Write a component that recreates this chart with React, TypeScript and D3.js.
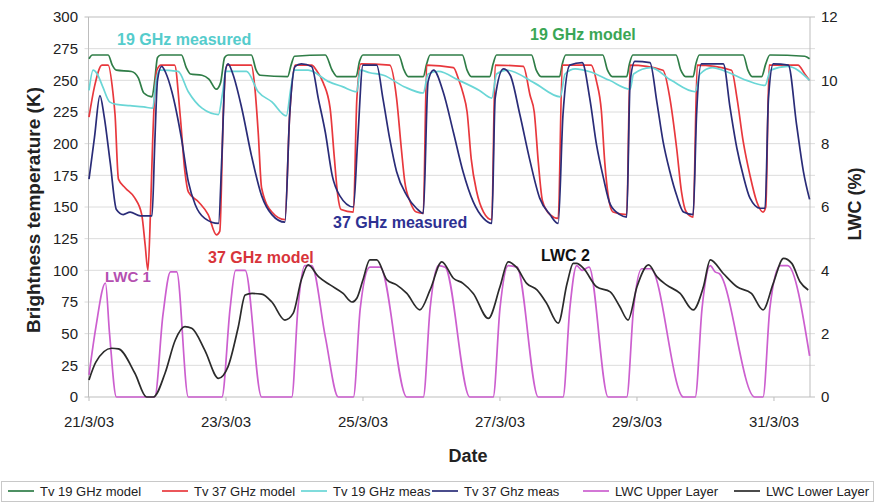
import React from 'react';
import * as d3 from 'd3';

type P = [number, number];

// time in days since 21/3/03 00:00
const dateTicks = [0, 2, 4, 6, 8, 10];
const dateLabels = ['21/3/03', '23/3/03', '25/3/03', '27/3/03', '29/3/03', '31/3/03'];
const leftTicks = [0, 25, 50, 75, 100, 125, 150, 175, 200, 225, 250, 275, 300];
const rightTicks = [0, 2, 4, 6, 8, 10, 12];

// Tv 19 GHz model (K)
const tv19Model: P[] = [
  [0, 267], [0.05, 270], [0.28, 270], [0.34, 262], [0.40, 258], [0.62, 257], [0.72, 252], [0.80, 240], [0.92, 237], [0.96, 250],
  [1.0, 268], [1.05, 270], [1.35, 270], [1.42, 260], [1.48, 255], [1.65, 254], [1.75, 251], [1.86, 243], [1.92, 248], [1.98, 268],
  [2.03, 270], [2.37, 270], [2.44, 258], [2.50, 254], [2.90, 253], [2.95, 262], [3.0, 269], [3.45, 270], [3.55, 258], [3.62, 253],
  [3.90, 253], [3.95, 265], [4.0, 270], [4.52, 270], [4.60, 258], [4.66, 253], [4.88, 253], [4.93, 263], [4.98, 270], [5.45, 270],
  [5.52, 258], [5.58, 253], [5.85, 253], [5.90, 263], [5.95, 270], [6.46, 270], [6.53, 258], [6.60, 253], [6.87, 253], [6.91, 263],
  [6.96, 270], [7.50, 270], [7.57, 258], [7.64, 253], [7.85, 253], [7.89, 263], [7.94, 270], [8.57, 270], [8.64, 258], [8.71, 253],
  [8.82, 253], [8.86, 263], [8.91, 270], [9.55, 270], [9.62, 258], [9.68, 253], [9.82, 253], [9.88, 263], [9.94, 270], [10.45, 269],
  [10.52, 267],
];

// Tv 37 GHz model (K)
const tv37Model: P[] = [
  [0, 221], [0.08, 245], [0.19, 262], [0.28, 262], [0.35, 240], [0.38, 223], [0.43, 172], [0.53, 165], [0.67, 157], [0.77, 144],
  [0.82, 120], [0.86, 100], [0.9, 150], [0.93, 203], [0.99, 258], [1.05, 262], [1.25, 262], [1.33, 223], [1.40, 178], [1.45, 162],
  [1.60, 154], [1.74, 144], [1.86, 128], [1.91, 131], [1.96, 223], [2.01, 262], [2.37, 262], [2.42, 245], [2.47, 209], [2.52, 165],
  [2.67, 146], [2.86, 140], [2.93, 223], [3.01, 262], [3.25, 262], [3.32, 258], [3.42, 248], [3.52, 228], [3.58, 190], [3.63, 160],
  [3.68, 148], [3.86, 146], [3.91, 235], [3.97, 263], [4.39, 262], [4.49, 236], [4.56, 196], [4.61, 170], [4.69, 154], [4.78, 146],
  [4.88, 145], [4.93, 262], [5.32, 260], [5.40, 250], [5.46, 240], [5.52, 225], [5.58, 188], [5.66, 162], [5.76, 146], [5.88, 140],
  [5.93, 262], [6.34, 261], [6.44, 238], [6.50, 225], [6.56, 185], [6.62, 155], [6.73, 144], [6.85, 141], [6.91, 262], [7.33, 262],
  [7.41, 249], [7.48, 226], [7.53, 185], [7.58, 159], [7.65, 146], [7.85, 144], [7.90, 262], [8.38, 258], [8.48, 236], [8.58, 196],
  [8.65, 162], [8.72, 146], [8.82, 142], [8.88, 262], [9.38, 258], [9.46, 236], [9.55, 202], [9.65, 175], [9.75, 154], [9.84, 146],
  [9.88, 150], [9.93, 262], [10.35, 262], [10.45, 255], [10.52, 250],
];

// Tv 19 GHz measured (K)
const tv19Meas: P[] = [
  [0, 242], [0.06, 258], [0.12, 255], [0.2, 245], [0.3, 233], [0.4, 231], [0.6, 230], [0.8, 229], [0.93, 228], [0.98, 250],
  [1.03, 258], [1.3, 257], [1.45, 241], [1.65, 228], [1.89, 223], [1.95, 240], [2.0, 257], [2.3, 257], [2.47, 241], [2.67, 233],
  [2.88, 222], [2.95, 245], [3.0, 258], [3.2, 258], [3.5, 249], [3.7, 245], [3.91, 241], [3.96, 258], [4.1, 256], [4.3, 254],
  [4.6, 245], [4.88, 240], [4.95, 255], [5.1, 257], [5.4, 250], [5.7, 242], [5.88, 236], [5.95, 255], [6.1, 258], [6.5, 248],
  [6.88, 237], [6.95, 255], [7.1, 259], [7.3, 257], [7.6, 250], [7.9, 243], [7.95, 255], [8.2, 260], [8.5, 250], [8.85, 241],
  [8.92, 255], [9.1, 260], [9.3, 257], [9.6, 250], [9.87, 246], [9.95, 258], [10.2, 261], [10.52, 250],
];

// Tv 37 GHz measured (K)
const tv37Meas: P[] = [
  [0, 172], [0.08, 205], [0.16, 238], [0.22, 222], [0.31, 185], [0.40, 148], [0.5, 144], [0.6, 146], [0.75, 143], [0.92, 143],
  [0.96, 200], [1.0, 250], [1.06, 261], [1.12, 256], [1.21, 241], [1.35, 204], [1.45, 170], [1.55, 152], [1.69, 141], [1.89, 137],
  [1.94, 190], [1.99, 257], [2.03, 263], [2.1, 255], [2.23, 228], [2.37, 191], [2.52, 159], [2.67, 144], [2.86, 138], [2.93, 223],
  [3.01, 261], [3.10, 263], [3.25, 261], [3.35, 235], [3.45, 209], [3.55, 175], [3.66, 159], [3.86, 150], [3.92, 200], [4.0, 262],
  [4.2, 262], [4.29, 236], [4.39, 204], [4.49, 178], [4.64, 159], [4.78, 149], [4.88, 145], [4.95, 249], [5.03, 258], [5.17, 241],
  [5.32, 209], [5.46, 178], [5.61, 154], [5.76, 141], [5.88, 137], [5.93, 236], [6.05, 259], [6.15, 254], [6.29, 223], [6.44, 186],
  [6.58, 157], [6.73, 144], [6.85, 137], [6.92, 223], [7.02, 262], [7.2, 264], [7.31, 236], [7.41, 199], [7.51, 173], [7.61, 152],
  [7.75, 144], [7.85, 142], [7.90, 249], [7.97, 265], [8.19, 264], [8.29, 233], [8.38, 202], [8.48, 178], [8.58, 159], [8.68, 146],
  [8.82, 144], [8.87, 223], [8.94, 263], [9.26, 263], [9.36, 228], [9.46, 196], [9.55, 175], [9.65, 157], [9.80, 149], [9.87, 149],
  [9.92, 236], [9.99, 263], [10.21, 262], [10.33, 215], [10.43, 178], [10.52, 156],
];

// LWC Upper Layer (%)
const lwcUpper: P[] = [
  [0, 0.7], [0.1, 2.2], [0.24, 3.6], [0.30, 2.0], [0.40, 0], [0.96, 0], [1.08, 2.6], [1.19, 3.95], [1.28, 3.95], [1.45, 0],
  [1.94, 0], [2.06, 2.8], [2.14, 4.0], [2.28, 4.0], [2.52, 0], [2.96, 0], [3.05, 2.8], [3.15, 4.15], [3.25, 4.15], [3.45, 1.9],
  [3.64, 0], [3.86, 0], [3.96, 2.8], [4.1, 4.1], [4.25, 4.1], [4.64, 0], [4.88, 0], [4.98, 2.8], [5.1, 4.15], [5.2, 4.1],
  [5.56, 0], [5.90, 0], [6.0, 2.8], [6.12, 4.15], [6.25, 4.1], [6.56, 0], [6.92, 0], [7.02, 2.8], [7.12, 4.15], [7.2, 4.0],
  [7.3, 4.1], [7.58, 0], [7.85, 0], [7.95, 2.8], [8.07, 4.05], [8.2, 4.05], [8.68, 0], [8.85, 0], [8.95, 2.8], [9.07, 4.15],
  [9.14, 3.95], [9.2, 3.9], [9.72, 0], [9.84, 0], [9.94, 2.8], [10.09, 4.15], [10.2, 4.15], [10.52, 1.3],
];

// LWC Lower Layer (%)
const lwcLower: P[] = [
  [0, 0.54], [0.1, 1.1], [0.33, 1.54], [0.43, 1.52], [0.67, 0.75], [0.84, 0], [0.94, 0], [1.11, 0.75], [1.26, 1.8], [1.40, 2.22],
  [1.50, 2.17], [1.69, 1.48], [1.89, 0.59], [2.03, 0.96], [2.18, 2.22], [2.28, 3.22], [2.38, 3.27], [2.52, 3.25], [2.67, 3.0],
  [2.86, 2.43], [2.98, 2.64], [3.10, 3.7], [3.20, 4.17], [3.35, 3.8], [3.52, 3.54], [3.71, 3.27], [3.84, 3.0], [3.91, 3.12],
  [4.0, 3.7], [4.10, 4.33], [4.20, 4.33], [4.35, 3.7], [4.49, 3.54], [4.64, 3.27], [4.83, 2.75], [4.98, 3.38], [5.15, 4.27],
  [5.32, 3.75], [5.46, 3.59], [5.61, 3.27], [5.83, 2.48], [6.0, 3.48], [6.12, 4.27], [6.24, 4.1], [6.39, 3.59], [6.54, 3.38],
  [6.68, 2.96], [6.85, 2.33], [6.98, 3.59], [7.07, 4.22], [7.12, 4.22], [7.22, 4.06], [7.41, 3.48], [7.61, 3.32], [7.75, 2.85],
  [7.87, 2.43], [8.0, 3.48], [8.17, 4.17], [8.29, 3.8], [8.43, 3.54], [8.63, 3.27], [8.82, 2.75], [8.97, 3.48], [9.07, 4.33],
  [9.26, 3.9], [9.46, 3.48], [9.67, 3.27], [9.84, 2.75], [9.99, 3.59], [10.14, 4.38], [10.26, 4.22], [10.38, 3.64], [10.50, 3.38],
];

const legendNames = ['Tv 19 GHz model', 'Tv 37 GHz model', 'Tv 19 GHz meas', 'Tv 37 Ghz meas', 'LWC Upper Layer', 'LWC Lower Layer'];

const C = {
  green: '#2f7d47',
  red: '#e8383d',
  cyan: '#6ad6d6',
  navy: '#2a2c78',
  magenta: '#cc5fcf',
  black: '#2b2b2b',
};

export default function App() {
  const W = 875;
  const H = 504;
  const left = 88.5;
  const right = 810;
  const top = 17;
  const bottom = 397;

  const x = d3.scaleLinear().domain([0, 10.526]).range([89, right]);
  const yK = d3.scaleLinear().domain([0, 300]).range([bottom, top]);
  const yL = d3.scaleLinear().domain([0, 12]).range([bottom, top]);

  const lineK = d3.line<P>().x((d) => x(d[0])).y((d) => yK(d[1])).curve(d3.curveMonotoneX);
  const lineL = d3.line<P>().x((d) => x(d[0])).y((d) => yL(d[1])).curve(d3.curveMonotoneX);

  const font = "'Liberation Sans', Arial, sans-serif";
  const series = [
    { d: lineK(tv19Model), c: C.green },
    { d: lineK(tv37Model), c: C.red },
    { d: lineK(tv19Meas), c: C.cyan },
    { d: lineK(tv37Meas), c: C.navy },
    { d: lineL(lwcUpper), c: C.magenta },
    { d: lineL(lwcLower), c: C.black },
  ];
  const legendColors = [C.green, C.red, C.cyan, C.navy, C.magenta, C.black];
  const legendX = [8, 162, 301, 432, 583, 734];

  return (
    <svg width={W} height={H} style={{ position: 'absolute', left: 0, top: 0, background: '#fff' }} fontFamily={font}>
      <rect x={0} y={0} width={W} height={H} fill="#fff" />
      {leftTicks.map((t) => (
        <line key={'g' + t} x1={left - 4} x2={right + 5} y1={yK(t)} y2={yK(t)} stroke={t === 0 || t === 300 ? '#bdbdbd' : '#dcdcdc'} strokeWidth={1} />
      ))}
      <line x1={left} x2={left} y1={top} y2={bottom} stroke="#bdbdbd" />
      <line x1={right} x2={right} y1={top} y2={bottom} stroke="#bdbdbd" />
      {dateTicks.map((t) => (
        <line key={'xt' + t} x1={x(t)} x2={x(t)} y1={bottom} y2={bottom + 4} stroke="#bdbdbd" />
      ))}
      {series.map((s, i) => (
        <path key={i} d={s.d || ''} fill="none" stroke={s.c} strokeWidth={1.7} strokeLinejoin="round" />
      ))}
      {leftTicks.map((t) => (
        <text key={'lt' + t} x={78} y={yK(t)} dy="0.35em" textAnchor="end" fontSize={15} fill="#222">{t}</text>
      ))}
      {rightTicks.map((t) => (
        <text key={'rt' + t} x={821} y={yL(t)} dy="0.35em" textAnchor="start" fontSize={15} fill="#222">{t}</text>
      ))}
      {dateTicks.map((t, i) => (
        <text key={'xl' + t} x={x(t)} y={427} textAnchor="middle" fontSize={15} fill="#222">{dateLabels[i]}</text>
      ))}
      <text transform="translate(40,210) rotate(-90)" textAnchor="middle" fontSize={19} fontWeight="bold" fill="#222">Brightness temperature (K)</text>
      <text transform="translate(861,204) rotate(-90)" textAnchor="middle" fontSize={18} fontWeight="bold" fill="#222">LWC (%)</text>
      <text x={468} y={462} textAnchor="middle" fontSize={18} fontWeight="bold" fill="#222">Date</text>

      <text x={117} y={45} fontSize={16} fontWeight="bold" fill="#55cccc">19 GHz measured</text>
      <text x={530} y={40} fontSize={16} fontWeight="bold" fill="#3aa655">19 GHz model</text>
      <text x={333} y={228} fontSize={16} fontWeight="bold" fill="#2e3192">37 GHz measured</text>
      <text x={208} y={263} fontSize={16} fontWeight="bold" fill="#d8343a">37 GHz model</text>
      <text x={105} y={282} fontSize={15} fontWeight="bold" fill="#b44fb0">LWC 1</text>
      <text x={541} y={261} fontSize={16} fontWeight="bold" fill="#111">LWC 2</text>

      <rect x={1.5} y={481.5} width={872} height={20} fill="none" stroke="#c8c8c8" />
      {legendNames.map((n, i) => (
        <g key={n}>
          <line x1={legendX[i]} x2={legendX[i] + 26} y1={491} y2={491} stroke={legendColors[i]} strokeWidth={1.7} />
          <text x={legendX[i] + 32} y={491} dy="0.35em" fontSize={13} fill="#222">{n}</text>
        </g>
      ))}
    </svg>
  );
}
